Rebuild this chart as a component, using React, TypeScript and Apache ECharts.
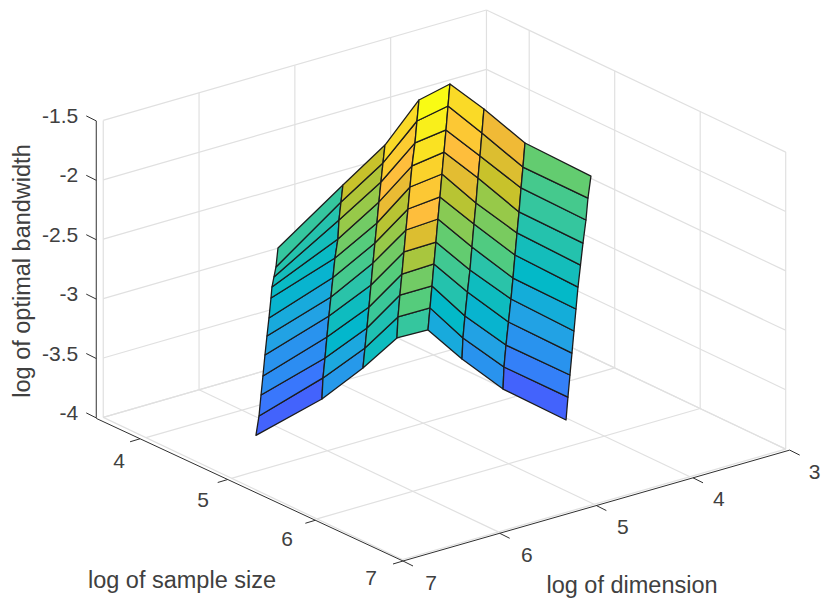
import React, { useEffect, useRef } from "react";
import * as echarts from "echarts";

const dimensionTicks = [3, 4, 5, 6, 7];
const sampleTicks = [4, 5, 6, 7];
const bandwidthTicks = [-4, -3.5, -3, -2.5, -2, -1.5];
const dimensionRange = [3, 7];
const sampleRange = [3.5, 7];
const bandwidthRange = [-4, -1.5];

// log of sample size for each of the eight surface columns
const sampleByColumn = [4.45, 4.45, 4.45, 4.45, 4.45, 4.85, 5.33, 6.07];

// log of dimension, one list per column, bottom row first
const dimensionByColumn = [
  [6.254, 6.222, 6.201, 6.181, 6.16, 6.139, 6.118, 6.097, 6.087, 6.066, 6.045, 6.024],
  [5.565, 5.554, 5.533, 5.513, 5.492, 5.471, 5.45, 5.429, 5.398, 5.387, 5.366, 5.346],
  [5.137, 5.116, 5.095, 5.074, 5.053, 5.032, 5.012, 4.991, 4.97, 4.949, 4.928, 4.907],
  [4.782, 4.771, 4.751, 4.73, 4.709, 4.688, 4.667, 4.646, 4.625, 4.594, 4.573, 4.552],
  [4.458, 4.437, 4.416, 4.396, 4.375, 4.354, 4.333, 4.312, 4.291, 4.27, 4.249, 4.229],
  [4.46, 4.45, 4.429, 4.403, 4.377, 4.356, 4.335, 4.314, 4.293, 4.272, 4.252, 4.231],
  [4.46, 4.45, 4.429, 4.403, 4.377, 4.356, 4.335, 4.314, 4.293, 4.272, 4.252, 4.231],
  [4.463, 4.443, 4.422, 4.401, 4.38, 4.359, 4.338, 4.312, 4.286, 4.255, 4.234, 4.203],
];

// log of optimal bandwidth, one list per column, bottom row first
const bandwidthByColumn = [
  [-4.0, -3.844, -3.672, -3.517, -3.345, -3.19, -3.043, -2.88, -2.79, -2.71, -2.631, -2.476],
  [-3.854, -3.679, -3.516, -3.344, -3.172, -3.017, -2.858, -2.699, -2.545, -2.388, -2.242, -2.104],
  [-3.692, -3.529, -3.365, -3.194, -3.013, -2.832, -2.669, -2.506, -2.333, -2.17, -2.015, -1.869],
  [-3.522, -3.348, -3.168, -2.996, -2.815, -2.635, -2.463, -2.283, -2.11, -1.924, -1.744, -1.572],
  [-3.53, -3.349, -3.169, -2.989, -2.809, -2.62, -2.439, -2.251, -2.071, -1.89, -1.693, -1.513],
  [-3.637, -3.463, -3.283, -3.087, -2.907, -2.719, -2.53, -2.358, -2.152, -1.972, -1.784, -1.586],
  [-3.726, -3.543, -3.363, -3.175, -2.987, -2.816, -2.627, -2.446, -2.274, -2.077, -1.906, -1.708],
  [-3.733, -3.545, -3.364, -3.184, -3.003, -2.823, -2.643, -2.464, -2.285, -2.098, -1.918, -1.74],
];

// colour level (0..1 on the colour map) of each facet, per strip, bottom row first
const facetLevels = [
  [0.19, 0.24, 0.29, 0.31, 0.36, 0.39, 0.43, 0.46, 0.48, 0.51, 0.54],
  [0.33, 0.38, 0.44, 0.47, 0.52, 0.57, 0.6, 0.64, 0.69, 0.72, 0.75],
  [0.47, 0.5, 0.55, 0.6, 0.64, 0.69, 0.73, 0.8, 0.84, 0.88, 0.92],
  [0.54, 0.6, 0.64, 0.71, 0.78, 0.84, 0.87, 0.9, 0.94, 0.97, 1.0],
  [0.39, 0.45, 0.51, 0.56, 0.62, 0.67, 0.73, 0.79, 0.84, 0.87, 0.92],
  [0.31, 0.36, 0.43, 0.47, 0.52, 0.59, 0.65, 0.69, 0.75, 0.78, 0.81],
  [0.19, 0.26, 0.31, 0.36, 0.4, 0.45, 0.48, 0.51, 0.54, 0.57, 0.62],
];

const parulaStops: [number, number, number, number][] = [
  [0, 62, 38, 168], [0.127, 72, 77, 240], [0.175, 70, 94, 251], [0.222, 62, 111, 255],
  [0.286, 45, 140, 243], [0.37, 32, 165, 226], [0.446, 1, 184, 202], [0.524, 44, 196, 167],
  [0.603, 87, 204, 122], [0.68, 143, 202, 78], [0.746, 197, 194, 42], [0.81, 240, 186, 54],
  [0.84, 254, 190, 60], [0.905, 250, 212, 42], [1, 249, 251, 20],
];

function parula(t: number): string {
  for (let k = 1; k < parulaStops.length; k++) {
    const a = parulaStops[k - 1];
    const b = parulaStops[k];
    if (t <= b[0]) {
      const f = (t - a[0]) / (b[0] - a[0]);
      return `rgb(${Math.round(a[1] + (b[1] - a[1]) * f)},${Math.round(a[2] + (b[2] - a[2]) * f)},${Math.round(a[3] + (b[3] - a[3]) * f)})`;
    }
  }
  return "rgb(249,251,20)";
}

// Orthographic view of the box, expressed in the hidden page-sized axes.
function project(dim: number, n: number, z: number): [number, number] {
  const a = 7 - dim;
  const b = 7 - n;
  return [402.5 + 95.8 * a - 85.5 * b, 559.5 - 27.6 * a - 40.6 * b - 118.8 * (z + 4)];
}

type P3 = [number, number, number];
const [dMin, dMax] = dimensionRange;
const [nMin, nMax] = sampleRange;
const [zMin, zMax] = bandwidthRange;

const gridSegments: [P3, P3][] = [];
dimensionTicks.forEach((d) => {
  gridSegments.push([[d, nMin, zMin], [d, nMin, zMax]]);
  gridSegments.push([[d, nMin, zMin], [d, nMax, zMin]]);
});
sampleTicks.forEach((n) => {
  gridSegments.push([[dMin, n, zMin], [dMin, n, zMax]]);
  gridSegments.push([[dMin, n, zMin], [dMax, n, zMin]]);
});
gridSegments.push([[dMin, nMin, zMin], [dMax, nMin, zMin]]);
bandwidthTicks.forEach((z) => {
  gridSegments.push([[dMin, nMin, z], [dMax, nMin, z]]);
  gridSegments.push([[dMin, nMin, z], [dMin, nMax, z]]);
});

const facets: [number, number][] = [];
facetLevels.forEach((strip, c) => strip.forEach((_, r) => facets.push([c, r])));

const axisColor = "#303030";
const textColor = "#404040";
const fontFamily = "'Liberation Sans', Arial, sans-serif";
const tickFontSize = 21;
const titleFontSize = 23.5;

const offL: [number, number] = [-7, 1];
const offF: [number, number] = [0.5, 1.5];
const offR: [number, number] = [4, 1];
const lerp = (u: [number, number], v: [number, number], f: number): [number, number] => [
  u[0] + (v[0] - u[0]) * f,
  u[1] + (v[1] - u[1]) * f,
];
const sampleAxisPoint = (n: number): [number, number] => {
  const p = project(dMax, n, zMin);
  const o = lerp(offL, offF, (n - nMin) / (nMax - nMin));
  return [p[0] + o[0], p[1] + o[1]];
};
const dimAxisPoint = (d: number): [number, number] => {
  const p = project(d, nMax, zMin);
  const o = lerp(offF, offR, (dMax - d) / (dMax - dMin));
  return [p[0] + o[0], p[1] + o[1]];
};
const bandAxisPoint = (z: number): [number, number] => {
  const p = project(dMax, nMin, z);
  return [p[0] + offL[0], p[1] + offL[1] - 0.5];
};

type Seg = { from: [number, number]; to: [number, number] };
const axisSegments: Seg[] = [
  { from: bandAxisPoint(zMin), to: bandAxisPoint(zMax) },
  { from: sampleAxisPoint(nMin), to: sampleAxisPoint(nMax) },
  { from: dimAxisPoint(dMax), to: dimAxisPoint(dMin) },
];
type Lab = { text: string; at: [number, number]; align: string; size: number; rot?: number };
const labels: Lab[] = [];
bandwidthTicks.forEach((z) => {
  const p = bandAxisPoint(z);
  axisSegments.push({ from: p, to: [p[0] - 10, p[1] - 5] });
  labels.push({ text: String(z), at: [p[0] - 18, p[1] - 5.5], align: "right", size: tickFontSize });
});
sampleTicks.forEach((n) => {
  const p = sampleAxisPoint(n);
  axisSegments.push({ from: p, to: [p[0] - 10, p[1] + 3] });
  labels.push({
    text: String(n),
    at: [p[0] - 21 - (n - 4) * 3.67, p[1] + 22 - (n - 4) * 1.67],
    align: "center",
    size: tickFontSize,
  });
});
dimensionTicks.forEach((d) => {
  const p = dimAxisPoint(d);
  axisSegments.push({ from: p, to: [p[0] + 10, p[1] + 5] });
  labels.push({
    text: String(d),
    at: [p[0] + 25 + (d - 3) * 0.75, p[1] + 21],
    align: "center",
    size: tickFontSize,
  });
});
labels.push({ text: "log of sample size", at: [182, 580], align: "center", size: titleFontSize });
labels.push({ text: "log of dimension", at: [632, 584.5], align: "center", size: titleFontSize });
labels.push({ text: "log of optimal bandwidth", at: [22, 271], align: "center", size: titleFontSize, rot: Math.PI / 2 });

export default function App() {
  const ref = useRef<HTMLDivElement>(null);
  useEffect(() => {
    const chart = echarts.init(ref.current!, undefined, { renderer: "svg" });
    const toPx = (api: any, p: [number, number]) => api.coord(p) as number[];
    chart.setOption({
      animation: false,
      backgroundColor: "#ffffff",
      grid: { left: 0, right: 0, top: 0, bottom: 0 },
      xAxis: { type: "value", min: 0, max: 824, show: false },
      yAxis: { type: "value", min: 0, max: 598, inverse: true, show: false },
      series: [
        {
          type: "custom",
          silent: true,
          clip: false,
          data: gridSegments.map((_, i) => [i]),
          renderItem: (params: any, api: any) => {
            const [u, v] = gridSegments[params.dataIndex];
            const a = toPx(api, project(u[0], u[1], u[2]));
            const b = toPx(api, project(v[0], v[1], v[2]));
            return {
              type: "line",
              shape: { x1: a[0], y1: a[1], x2: b[0], y2: b[1] },
              style: { stroke: "#e0e0e0", lineWidth: 1.2, fill: "none" },
            };
          },
        },
        {
          type: "custom",
          silent: true,
          clip: false,
          data: facets.map((_, i) => [i]),
          renderItem: (params: any, api: any) => {
            const [c, r] = facets[params.dataIndex];
            const corner = (cc: number, rr: number) =>
              toPx(api, project(dimensionByColumn[cc][rr], sampleByColumn[cc], bandwidthByColumn[cc][rr]));
            return {
              type: "polygon",
              shape: { points: [corner(c, r), corner(c + 1, r), corner(c + 1, r + 1), corner(c, r + 1)] },
              style: { fill: parula(facetLevels[c][r]), stroke: "#1c1c1c", lineWidth: 1.3, lineJoin: "round" },
            };
          },
        },
        {
          type: "custom",
          silent: true,
          clip: false,
          data: axisSegments.map((_, i) => [i]),
          renderItem: (params: any, api: any) => {
            const s = axisSegments[params.dataIndex];
            const a = toPx(api, s.from);
            const b = toPx(api, s.to);
            return {
              type: "line",
              shape: { x1: a[0], y1: a[1], x2: b[0], y2: b[1] },
              style: { stroke: axisColor, lineWidth: 1, fill: "none" },
            };
          },
        },
        {
          type: "custom",
          silent: true,
          clip: false,
          data: labels.map((_, i) => [i]),
          renderItem: (params: any, api: any) => {
            const l = labels[params.dataIndex];
            const a = toPx(api, l.at);
            return {
              type: "text",
              x: a[0],
              y: a[1],
              rotation: l.rot ?? 0,
              style: {
                text: l.text,
                fill: textColor,
                fontSize: l.size,
                fontFamily,
                textAlign: l.align,
                textVerticalAlign: "middle",
              },
            };
          },
        },
      ],
    });
    return () => chart.dispose();
  }, []);
  return <div ref={ref} style={{ position: "fixed", left: 0, top: 0, width: 824, height: 598 }} />;
}
